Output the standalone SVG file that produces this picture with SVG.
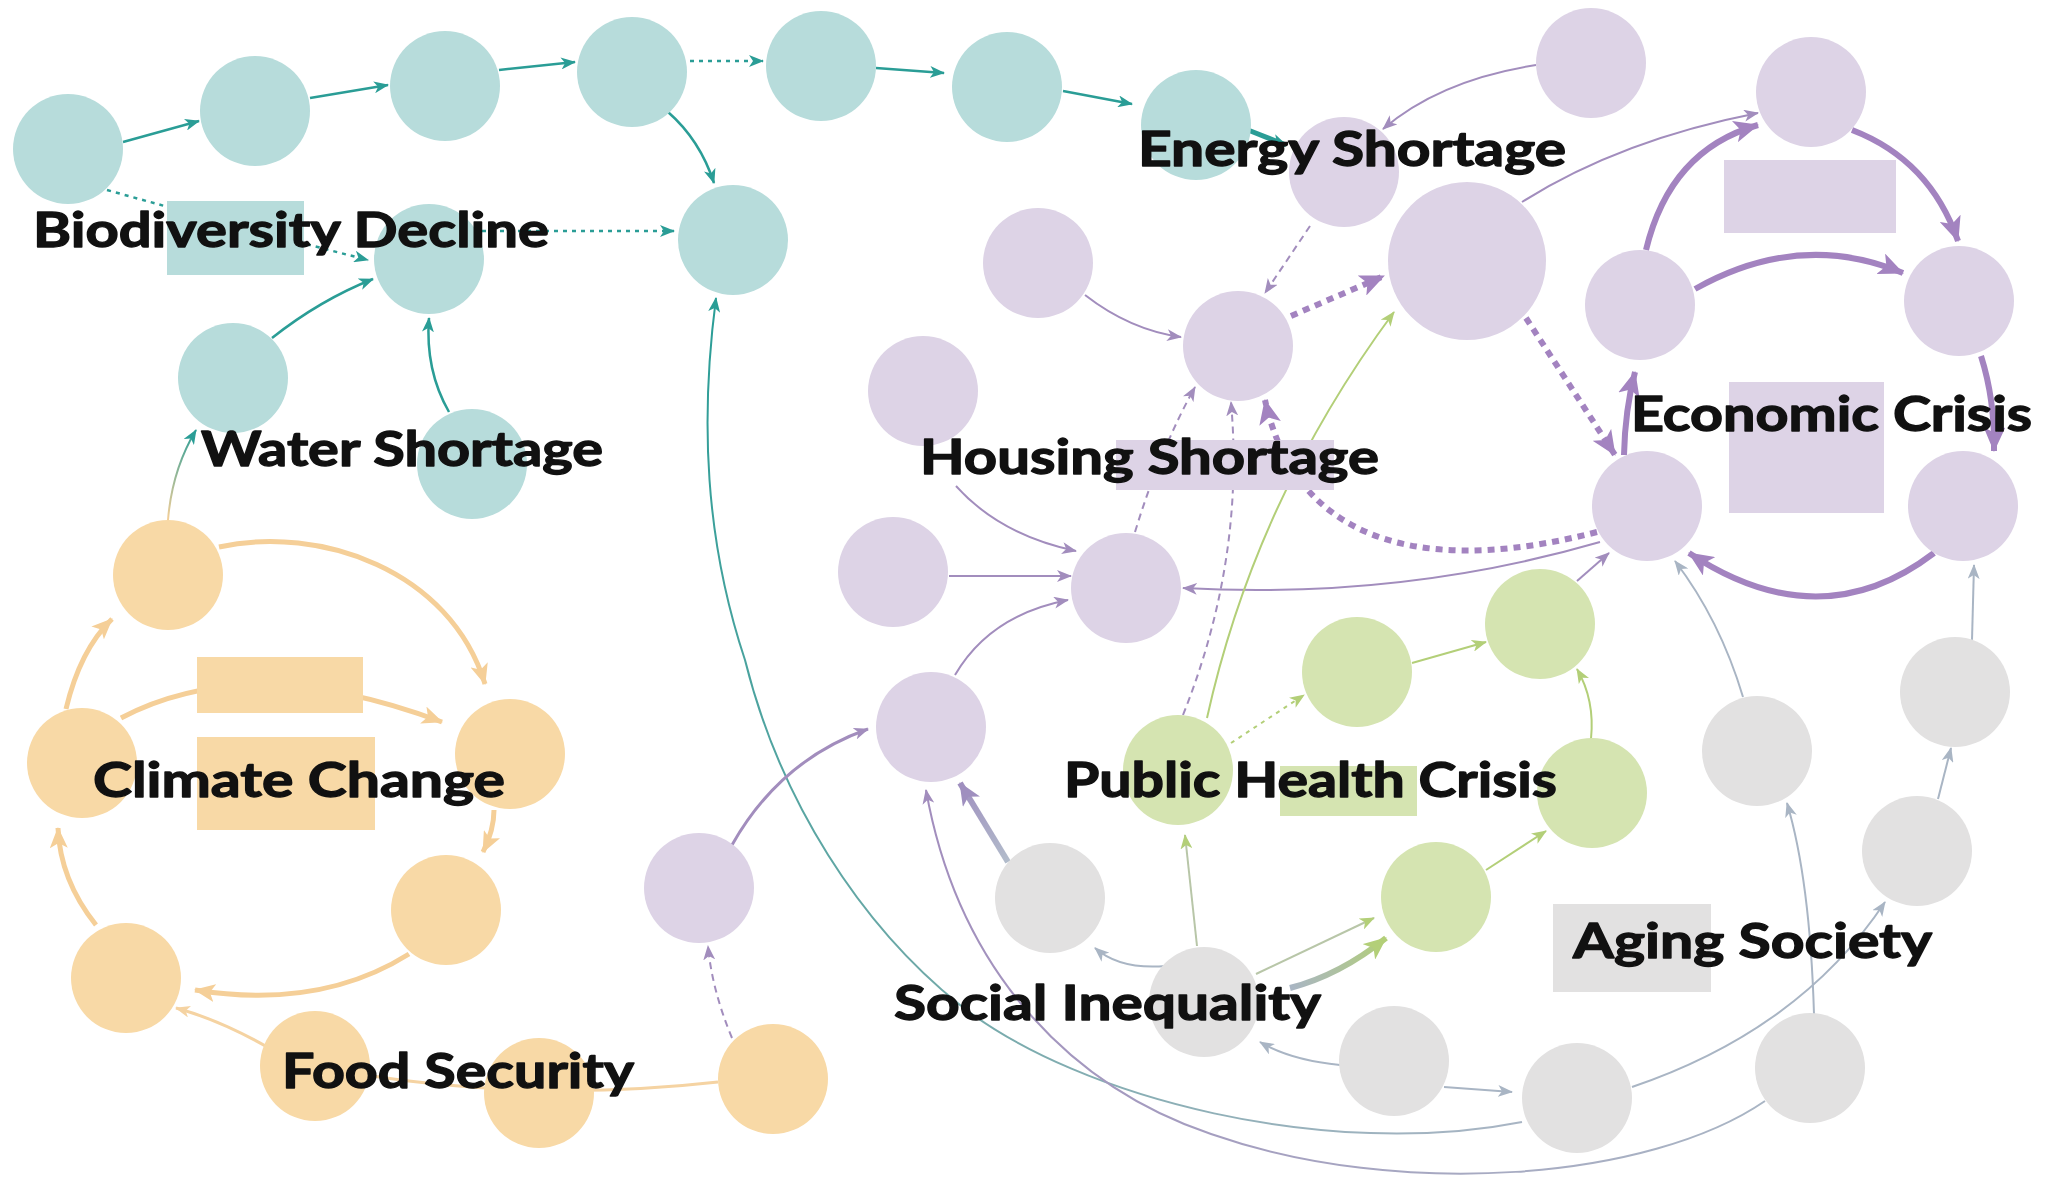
<svg xmlns="http://www.w3.org/2000/svg" width="2049" height="1184" viewBox="0 0 2049 1184">
<style>
.tn{fill:#b7dcdb}.on{fill:#f8d9a6}.pn{fill:#ddd3e6}.gn{fill:#d5e4b1}.yn{fill:#e2e1e1}
.e{fill:none;stroke-linecap:butt}
.et{stroke:#2a9d96;stroke-width:2.5}
.eo{stroke:#f5cf98;stroke-width:5}
.eo2{stroke:#f5d3a2;stroke-width:3}
.ep{stroke:#a28dbd;stroke-width:2}
.epk{stroke:#a383c0;stroke-width:6}
.eg{stroke:#b3cf78;stroke-width:2}
.ey{stroke:#a9b5c4;stroke-width:2}
.dot{stroke-dasharray:4 5}
.dash{stroke-dasharray:7 5}
.tdot{stroke-dasharray:7 6}
.lbl{font-family:Lato,"Open Sans","Liberation Sans",sans-serif;font-weight:700;font-size:48px;fill:#111;stroke:#111;stroke-width:1.3px;stroke-linejoin:round}
</style>
<defs>
<marker id="aT" markerUnits="userSpaceOnUse" markerWidth="16" markerHeight="12" refX="14" refY="6" orient="auto"><path d="M0,0 L15,6 L0,12 L4,6 z" fill="#2a9d96"/></marker>
<marker id="aO" markerUnits="userSpaceOnUse" markerWidth="22" markerHeight="18" refX="20" refY="9" orient="auto"><path d="M0,0 L21,9 L0,18 L5,9 z" fill="#f5cf98"/></marker>
<marker id="aO2" markerUnits="userSpaceOnUse" markerWidth="16" markerHeight="12" refX="14" refY="6" orient="auto"><path d="M0,0 L15,6 L0,12 L4,6 z" fill="#f5d3a2"/></marker>
<marker id="aP" markerUnits="userSpaceOnUse" markerWidth="16" markerHeight="12" refX="14" refY="6" orient="auto"><path d="M0,0 L15,6 L0,12 L4,6 z" fill="#a28dbd"/></marker>
<marker id="aPK" markerUnits="userSpaceOnUse" markerWidth="26" markerHeight="22" refX="24" refY="11" orient="auto"><path d="M0,0 L25,11 L0,22 L6,11 z" fill="#a383c0"/></marker>
<marker id="aG" markerUnits="userSpaceOnUse" markerWidth="16" markerHeight="12" refX="14" refY="6" orient="auto"><path d="M0,0 L15,6 L0,12 L4,6 z" fill="#b3cf78"/></marker>
<marker id="aGK" markerUnits="userSpaceOnUse" markerWidth="24" markerHeight="20" refX="22" refY="10" orient="auto"><path d="M0,0 L23,10 L0,20 L6,10 z" fill="#b3cf78"/></marker>
<marker id="aY" markerUnits="userSpaceOnUse" markerWidth="16" markerHeight="12" refX="14" refY="6" orient="auto"><path d="M0,0 L15,6 L0,12 L4,6 z" fill="#a9b5c4"/></marker>
<marker id="aYK" markerUnits="userSpaceOnUse" markerWidth="24" markerHeight="20" refX="22" refY="10" orient="auto"><path d="M0,0 L23,10 L0,20 L6,10 z" fill="#9f8fbf"/></marker>
<linearGradient id="gOT" gradientUnits="userSpaceOnUse" x1="168" y1="520" x2="196" y2="430"><stop offset="0" stop-color="#f5cf98"/><stop offset="1" stop-color="#2a9d96"/></linearGradient>
<linearGradient id="gYT" gradientUnits="userSpaceOnUse" x1="1522" y1="1122" x2="716" y2="298"><stop offset="0" stop-color="#a9b5c4"/><stop offset="0.45" stop-color="#6fa9a8"/><stop offset="1" stop-color="#2a9d96"/></linearGradient>
<linearGradient id="gYP" gradientUnits="userSpaceOnUse" x1="1765" y1="1101" x2="926" y2="790"><stop offset="0" stop-color="#a9b5c4"/><stop offset="1" stop-color="#a28dbd"/></linearGradient>
<linearGradient id="gYPk" gradientUnits="userSpaceOnUse" x1="1008" y1="862" x2="960" y2="783"><stop offset="0" stop-color="#b2bccb"/><stop offset="1" stop-color="#9f8fbf"/></linearGradient>
<linearGradient id="gYG" gradientUnits="userSpaceOnUse" x1="1290" y1="988" x2="1386" y2="938"><stop offset="0" stop-color="#a9b5c4"/><stop offset="1" stop-color="#b3cf78"/></linearGradient>
</defs>
<rect width="2049" height="1184" fill="#ffffff"/>

<g id="connectors">
<path class="e et" d="M123,142 L199,121" marker-end="url(#aT)"/>
<path class="e et" d="M310,98 L388,85" marker-end="url(#aT)"/>
<path class="e et" d="M499,70 L575,62" marker-end="url(#aT)"/>
<path class="e et dot" d="M690,61 L763,61" marker-end="url(#aT)"/>
<path class="e et" d="M876,68 L944,73" marker-end="url(#aT)"/>
<path class="e et" d="M1063,91 L1132,104" marker-end="url(#aT)"/>
<path class="e et" style="stroke-width:5" d="M1248,130 L1286,145" marker-end="url(#aT)"/>
<path class="e et" d="M668,112 Q700,140 714,183" marker-end="url(#aT)"/>
<path class="e et dot" d="M107,190 Q250,230 368,260" marker-end="url(#aT)"/>
<path class="e et dot" d="M482,231 L674,231" marker-end="url(#aT)"/>
<path class="e et" d="M272,338 Q320,300 373,279" marker-end="url(#aT)"/>
<path class="e et" d="M449,412 Q425,370 429,318" marker-end="url(#aT)"/>
<path class="e" stroke="url(#gOT)" stroke-width="2" d="M168,520 Q172,470 196,430" marker-end="url(#aT)"/>
<path class="e" stroke="url(#gYT)" stroke-width="2" d="M1522,1122 C1330,1160 1080,1100 960,1005 C860,925 780,800 745,660 C705,540 700,420 716,298" marker-end="url(#aT)"/>
<path class="e eo" d="M219,547 C320,525 450,570 485,684" marker-end="url(#aO)"/>
<path class="e eo" d="M121,718 Q250,650 442,722" marker-end="url(#aO)"/>
<path class="e eo" d="M494,810 Q494,830 483,852" marker-end="url(#aO)"/>
<path class="e eo" d="M409,954 Q320,1010 195,990" marker-end="url(#aO)"/>
<path class="e eo" d="M96,925 Q60,880 58,828" marker-end="url(#aO)"/>
<path class="e eo" d="M66,709 Q80,650 112,619" marker-end="url(#aO)"/>
<path class="e eo2" d="M269,1048 Q220,1020 176,1008" marker-end="url(#aO2)"/>
<path class="e eo2" d="M718,1082 Q540,1102 365,1075"/>
<path class="e ep dash" d="M732,1038 Q712,990 708,946" marker-end="url(#aP)"/>
<path class="e ep" d="M1536,65 Q1440,80 1383,129" marker-end="url(#aP)"/>
<path class="e ep" d="M1522,202 Q1620,140 1758,113" marker-end="url(#aP)"/>
<path class="e ep" d="M1085,295 Q1130,330 1181,337" marker-end="url(#aP)"/>
<path class="e ep" d="M956,486 Q1000,535 1076,551" marker-end="url(#aP)"/>
<path class="e ep" d="M949,576 L1071,576" marker-end="url(#aP)"/>
<path class="e ep" d="M955,675 Q990,615 1068,600" marker-end="url(#aP)"/>
<path class="e ep" d="M1600,542 Q1400,600 1183,588" marker-end="url(#aP)"/>
<path class="e ep" style="stroke-width:3" d="M732,845 Q780,760 868,729" marker-end="url(#aP)"/>
<path class="e ep dash" d="M1310,226 L1265,293" marker-end="url(#aP)"/>
<path class="e ep dash" d="M1135,532 Q1160,450 1195,387" marker-end="url(#aP)"/>
<path class="e ep dash" d="M1183,715 Q1245,560 1231,402" marker-end="url(#aP)"/>
<path class="e ep" d="M1577,581 L1609,553" marker-end="url(#aP)"/>
<path class="e" stroke="url(#gYP)" stroke-width="2" d="M1765,1101 C1650,1180 1400,1200 1211,1134 C1080,1090 960,980 926,790" marker-end="url(#aP)"/>
<path class="e epk" d="M1646,250 Q1670,150 1758,125" marker-end="url(#aPK)"/>
<path class="e epk" d="M1852,130 Q1930,160 1958,241" marker-end="url(#aPK)"/>
<path class="e epk" d="M1695,289 Q1800,230 1903,273" marker-end="url(#aPK)"/>
<path class="e epk" d="M1981,356 Q1995,400 1994,451" marker-end="url(#aPK)"/>
<path class="e epk" d="M1934,553 Q1820,640 1689,553" marker-end="url(#aPK)"/>
<path class="e epk" d="M1624,455 Q1625,410 1635,372" marker-end="url(#aPK)"/>
<path class="e epk tdot" d="M1291,316 L1384,276" marker-end="url(#aPK)"/>
<path class="e epk tdot" d="M1526,318 L1615,455" marker-end="url(#aPK)"/>
<path class="e epk tdot" d="M1597,532 C1450,570 1300,560 1265,400" marker-end="url(#aPK)"/>
<path class="e eg" d="M1207,718 Q1255,500 1394,312" marker-end="url(#aG)"/>
<path class="e eg" d="M1412,663 L1486,642" marker-end="url(#aG)"/>
<path class="e eg" d="M1591,739 Q1595,700 1577,669" marker-end="url(#aG)"/>
<path class="e eg" d="M1486,870 L1546,831" marker-end="url(#aG)"/>
<path class="e eg dot" d="M1231,743 L1304,695" marker-end="url(#aG)"/>
<path class="e ey" d="M1743,697 Q1720,620 1675,561" marker-end="url(#aY)"/>
<path class="e ey" d="M1972,640 L1974,565" marker-end="url(#aY)"/>
<path class="e ey" d="M1938,799 L1951,748" marker-end="url(#aY)"/>
<path class="e ey" d="M1814,1014 Q1810,880 1787,803" marker-end="url(#aY)"/>
<path class="e ey" d="M1632,1087 Q1800,1030 1885,902" marker-end="url(#aY)"/>
<path class="e ey" d="M1444,1087 L1512,1092" marker-end="url(#aY)"/>
<path class="e ey" d="M1340,1065 Q1290,1060 1260,1042" marker-end="url(#aY)"/>
<path class="e ey" d="M1166,966 Q1120,970 1095,948" marker-end="url(#aY)"/>
<path class="e" stroke="#b8c6a8" stroke-width="2" d="M1197,946 L1185,835" marker-end="url(#aG)"/>
<path class="e" stroke="#b8c6a8" stroke-width="2" d="M1256,974 L1374,918" marker-end="url(#aG)"/>
<path class="e" stroke="url(#gYG)" stroke-width="6" d="M1290,988 Q1340,975 1386,938" marker-end="url(#aGK)"/>
<path class="e" stroke="url(#gYPk)" stroke-width="6" d="M1008,862 L960,783" marker-end="url(#aYK)"/>
</g>

<g id="label-rects">
<rect x="167" y="201" width="137" height="74" class="tn"/>
<rect x="197" y="657" width="166" height="56" class="on"/>
<rect x="197" y="737" width="178" height="93" class="on"/>
<rect x="1116" y="440" width="218" height="50" class="pn"/>
<rect x="1724" y="160" width="172" height="73" class="pn"/>
<rect x="1729" y="382" width="155" height="131" class="pn"/>
<rect x="1280" y="766" width="137" height="50" class="gn"/>
<rect x="1553" y="904" width="158" height="88" class="yn"/>
</g>

<g id="teal-nodes">
<circle id="t1" cx="68" cy="149" r="55" class="tn"/>
<circle id="t2" cx="255" cy="111" r="55" class="tn"/>
<circle id="t3" cx="445" cy="86" r="55" class="tn"/>
<circle id="t4" cx="632" cy="72" r="55" class="tn"/>
<circle id="t5" cx="821" cy="66" r="55" class="tn"/>
<circle id="t6" cx="1007" cy="87" r="55" class="tn"/>
<circle id="t7" cx="1196" cy="125" r="55" class="tn"/>
<circle id="t8" cx="733" cy="240" r="55" class="tn"/>
<circle id="t9" cx="429" cy="259" r="55" class="tn"/>
<circle id="t10" cx="233" cy="378" r="55" class="tn"/>
<circle id="t11" cx="472" cy="464" r="55" class="tn"/>
</g>
<g id="orange-nodes">
<circle id="o1" cx="168" cy="575" r="55" class="on"/>
<circle id="o2" cx="510" cy="754" r="55" class="on"/>
<circle id="o3" cx="82" cy="763" r="55" class="on"/>
<circle id="o4" cx="446" cy="910" r="55" class="on"/>
<circle id="o5" cx="126" cy="978" r="55" class="on"/>
<circle id="o6" cx="315" cy="1066" r="55" class="on"/>
<circle id="o7" cx="539" cy="1093" r="55" class="on"/>
<circle id="o8" cx="773" cy="1079" r="55" class="on"/>
</g>
<g id="purple-nodes">
<circle id="p1" cx="1591" cy="63" r="55" class="pn"/>
<circle id="p2" cx="1811" cy="92" r="55" class="pn"/>
<circle id="p3" cx="1344" cy="172" r="55" class="pn"/>
<circle id="p4" cx="1467" cy="261" r="79" class="pn"/>
<circle id="p5" cx="1038" cy="263" r="55" class="pn"/>
<circle id="p6" cx="1238" cy="346" r="55" class="pn"/>
<circle id="p7" cx="1640" cy="305" r="55" class="pn"/>
<circle id="p8" cx="1959" cy="301" r="55" class="pn"/>
<circle id="p9" cx="923" cy="391" r="55" class="pn"/>
<circle id="p10" cx="1647" cy="506" r="55" class="pn"/>
<circle id="p11" cx="1963" cy="506" r="55" class="pn"/>
<circle id="p12" cx="893" cy="572" r="55" class="pn"/>
<circle id="p13" cx="1126" cy="588" r="55" class="pn"/>
<circle id="p14" cx="931" cy="727" r="55" class="pn"/>
<circle id="p15" cx="699" cy="888" r="55" class="pn"/>
</g>
<g id="green-nodes">
<circle id="g1" cx="1357" cy="672" r="55" class="gn"/>
<circle id="g2" cx="1540" cy="624" r="55" class="gn"/>
<circle id="g3" cx="1178" cy="770" r="55" class="gn"/>
<circle id="g4" cx="1592" cy="793" r="55" class="gn"/>
<circle id="g5" cx="1436" cy="897" r="55" class="gn"/>
</g>
<g id="gray-nodes">
<circle id="y1" cx="1955" cy="692" r="55" class="yn"/>
<circle id="y2" cx="1757" cy="751" r="55" class="yn"/>
<circle id="y3" cx="1050" cy="898" r="55" class="yn"/>
<circle id="y4" cx="1917" cy="851" r="55" class="yn"/>
<circle id="y5" cx="1204" cy="1002" r="55" class="yn"/>
<circle id="y6" cx="1394" cy="1061" r="55" class="yn"/>
<circle id="y7" cx="1577" cy="1098" r="55" class="yn"/>
<circle id="y8" cx="1810" cy="1068" r="55" class="yn"/>
</g>

<g id="labels">
<text class="lbl" x="33" y="247" textLength="516" lengthAdjust="spacingAndGlyphs">Biodiversity Decline</text>
<text class="lbl" x="201" y="466" textLength="402" lengthAdjust="spacingAndGlyphs">Water Shortage</text>
<text class="lbl" x="1138" y="166" textLength="428" lengthAdjust="spacingAndGlyphs">Energy Shortage</text>
<text class="lbl" x="920" y="474" textLength="459" lengthAdjust="spacingAndGlyphs">Housing Shortage</text>
<text class="lbl" x="1631" y="431" textLength="401" lengthAdjust="spacingAndGlyphs">Economic Crisis</text>
<text class="lbl" x="93" y="797" textLength="412" lengthAdjust="spacingAndGlyphs">Climate Change</text>
<text class="lbl" x="282" y="1088" textLength="352" lengthAdjust="spacingAndGlyphs">Food Security</text>
<text class="lbl" x="1064" y="797" textLength="493" lengthAdjust="spacingAndGlyphs">Public Health Crisis</text>
<text class="lbl" x="894" y="1020" textLength="427" lengthAdjust="spacingAndGlyphs">Social Inequality</text>
<text class="lbl" x="1573" y="958" textLength="359" lengthAdjust="spacingAndGlyphs">Aging Society</text>
</g>
</svg>
